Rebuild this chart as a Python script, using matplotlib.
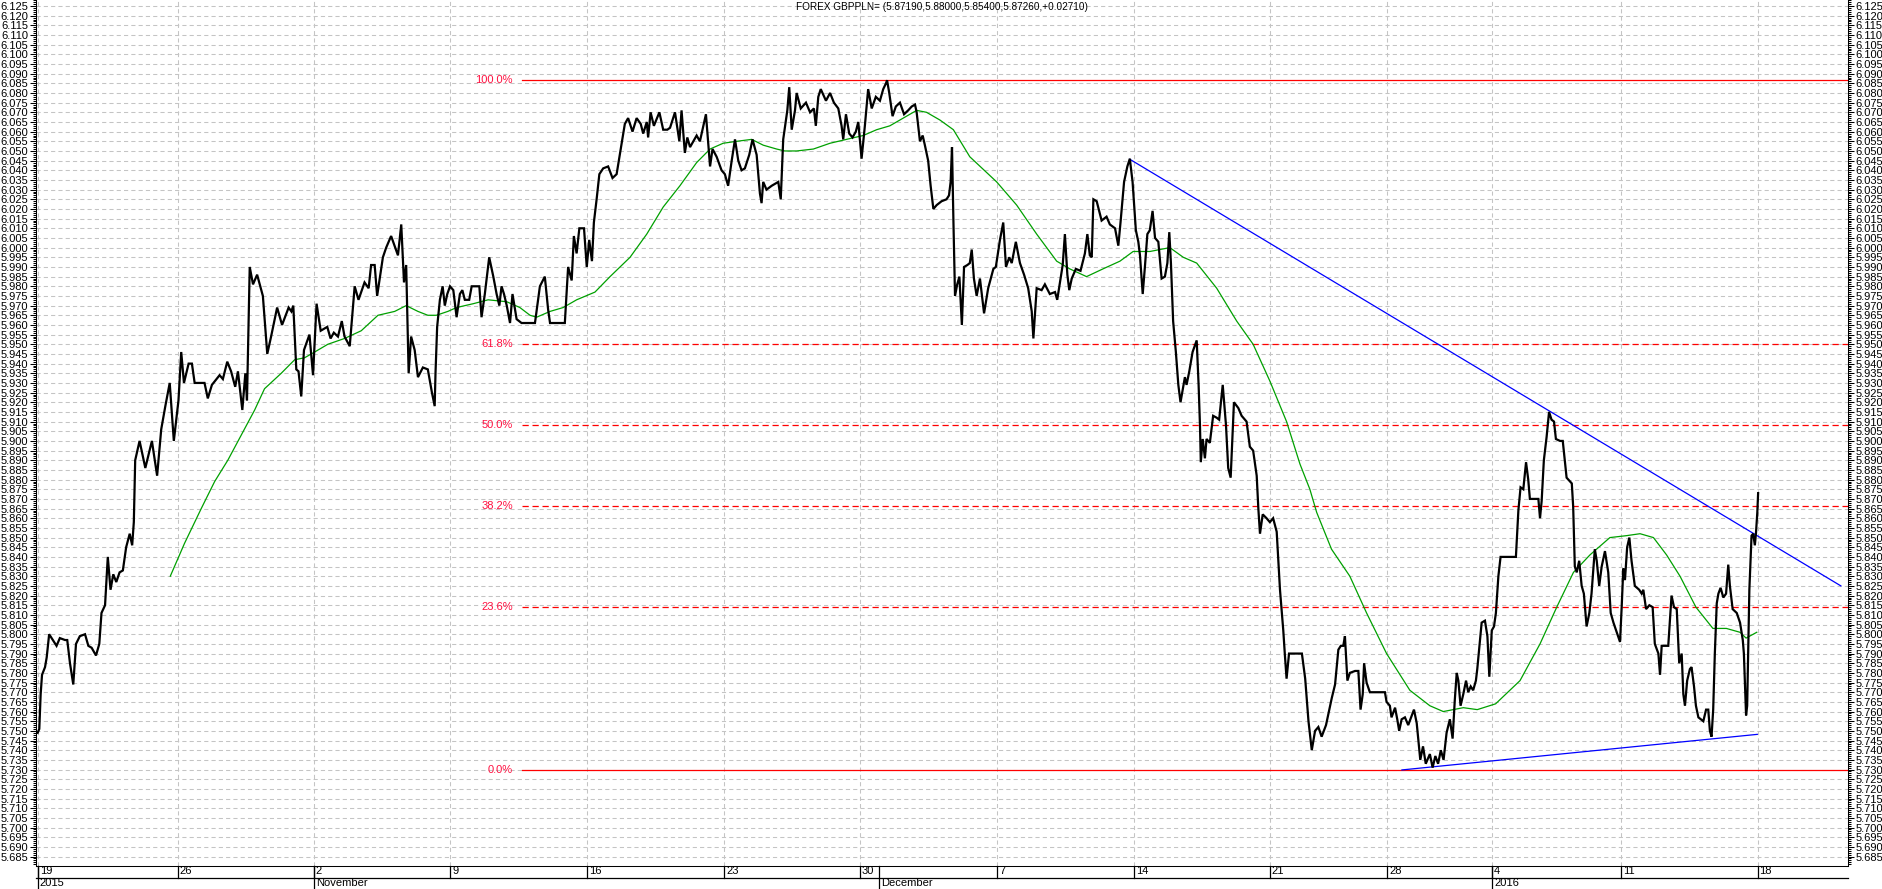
import matplotlib
matplotlib.use('Agg')
import matplotlib.pyplot as plt
from matplotlib.ticker import MultipleLocator, FormatStrFormatter
from matplotlib import transforms

# --- dados (eixo x = dias de negociacao desde 19 out 2015) ---
t_close = [
    -0.01, 0.05, 0.10, 0.15, 0.26, 0.32, 0.41, 0.50, 0.68, 0.80,
    0.99, 1.07, 1.17, 1.29, 1.39, 1.53, 1.72, 1.84, 1.96, 2.12,
    2.24, 2.32, 2.45,
    2.55, 2.65, 2.75, 2.86, 2.98, 3.10, 3.22, 3.35, 3.44, 3.50,
    3.55, 3.71, 3.92, 4.16, 4.35, 4.50, 4.65, 4.81, 4.96, 5.13,
    5.23, 5.33, 5.50, 5.62, 5.72, 6.08, 6.20, 6.35, 6.63, 6.75,
    6.91, 7.05, 7.20, 7.30, 7.46, 7.57, 7.63, 7.73, 7.85, 8.00,
    8.21, 8.37, 8.51, 8.73, 8.91, 9.15, 9.25, 9.32, 9.43, 9.51,
    9.61, 9.71, 9.91, 10.04, 10.17, 10.32, 10.56, 10.68, 10.80, 10.95,
    11.09, 11.19, 11.38, 11.56, 11.70, 11.92, 12.07, 12.16, 12.29, 12.38,
    12.59, 12.71, 12.89, 13.14, 13.26, 13.36, 13.44, 13.53, 13.62, 13.75,
    13.87, 14.05, 14.23, 14.38, 14.48,
    14.51, 14.57, 14.67, 14.77, 14.85, 14.94, 15.04, 15.16, 15.28, 15.40,
    15.49, 15.58, 15.74, 15.83, 16.11, 16.19, 16.31, 16.47, 16.62, 16.74,
    16.84, 16.92, 17.01, 17.11, 17.23, 17.32, 17.47, 17.65, 18.14, 18.32,
    18.50, 18.62, 18.69, 19.23, 19.35, 19.48, 19.56, 19.66, 19.76, 19.93,
    20.03, 20.12, 20.22, 20.29, 20.39, 20.49, 20.63, 20.81, 20.97, 21.12,
    21.27, 21.42, 21.54, 21.70, 21.85, 22.00, 22.09, 22.22, 22.27, 22.36,
    22.48, 22.68, 22.82, 22.97, 23.07, 23.25, 23.41, 23.49, 23.61, 23.70,
    23.80, 24.04, 24.16, 24.38, 24.53, 24.62, 24.77, 24.95, 25.07, 25.19,
    25.32, 25.44, 25.56, 25.68, 25.80, 25.96, 26.08, 26.23, 26.35, 26.41,
    26.47, 26.59, 26.78, 27.02, 27.11, 27.20, 27.35, 27.42, 27.51, 27.63,
    27.69, 27.84, 28.03, 28.18, 28.32, 28.39, 28.48, 28.57, 28.76, 28.91,
    29.05, 29.21, 29.33, 29.39, 29.49, 29.61, 29.73, 29.85, 29.94, 30.06,
    30.18, 30.30, 30.43, 30.58, 30.73, 30.85, 30.95, 30.99, 31.07,
    31.19, 31.31, 31.46, 31.61, 31.76, 31.89, 32.01, 32.07, 32.19, 32.29,
    32.37, 32.49, 32.58, 32.68, 32.80, 32.98, 33.16, 33.25, 33.31, 33.36,
    33.41, 33.47, 33.55, 33.63, 33.72, 33.80, 33.92, 34.01, 34.08, 34.16,
    34.26, 34.38, 34.53, 34.68, 34.87, 34.96, 35.11, 35.23, 35.33, 35.45,
    35.54, 35.69, 35.84, 35.99, 36.14, 36.27, 36.33, 36.45, 36.63, 36.75,
    36.93, 37.12, 37.20, 37.30, 37.40, 37.48, 37.57, 37.64, 37.73, 37.88,
    38.05, 38.21, 38.30, 38.39, 38.46, 38.52, 38.64, 38.82, 39.00, 39.12,
    39.31, 39.43, 39.51, 39.64, 39.76, 39.85, 39.95, 40.07, 40.16, 40.22,
    40.32, 40.40, 40.49, 40.58, 40.68, 40.77, 40.89, 41.01, 41.13, 41.22,
    41.29, 41.35, 41.43, 41.53, 41.62, 41.70, 41.86, 41.92, 42.02, 42.14,
    42.29, 42.36, 42.41, 42.44, 42.51, 42.59, 42.65, 42.77, 42.89, 43.02,
    43.11, 43.24, 43.36, 43.44, 43.53, 43.65, 43.81, 43.93, 44.11, 44.23,
    44.35, 44.48, 44.54, 44.60, 44.70, 44.84, 44.96, 45.08, 45.21, 45.33,
    45.45, 45.51, 45.57, 45.66, 45.94, 46.13, 46.25, 46.37,
    46.49, 46.61, 46.73, 46.85, 47.01, 47.22, 47.34, 47.46, 47.55, 47.64,
    47.70, 47.79, 47.88, 48.07, 48.19, 48.27, 48.35, 48.40, 48.49, 48.61,
    49.16, 49.22, 49.34, 49.40, 49.53, 49.61, 49.68, 49.77, 49.89, 50.01,
    50.14, 50.22, 50.32, 50.38, 50.45, 50.55, 50.65, 50.80, 50.90, 51.00,
    51.10, 51.20, 51.30, 51.41, 51.53, 51.63, 51.71, 51.78, 51.84, 51.92,
    52.02, 52.12, 52.20, 52.29, 52.38, 52.48, 52.53, 52.61, 52.69, 52.81,
    52.90, 52.97, 53.06, 53.14, 53.21, 53.30, 53.38, 53.60, 53.94, 54.03,
    54.11, 54.21, 54.31, 54.39, 54.45, 54.76, 54.82, 54.88, 54.96, 55.06,
    55.15, 55.24, 55.33, 55.40, 55.55, 55.65, 55.79, 55.98, 56.03, 56.09,
    56.16, 56.25, 56.34, 56.42, 56.52, 56.62, 56.70, 56.82, 56.89, 56.98,
    57.07, 57.19, 57.31, 57.40, 57.50, 57.62, 57.74, 57.80, 57.86, 57.92,
    58.00, 58.08, 58.16, 58.28, 58.44, 58.53, 58.59, 58.69, 58.81, 58.93,
    59.01, 59.14, 59.20, 59.26, 59.38, 59.50, 59.62, 59.71, 59.81, 59.90,
    59.99, 60.05, 60.11, 60.19, 60.29, 60.35, 60.44, 60.51, 60.60, 60.78,
    60.88, 60.96, 61.02, 61.08, 61.14, 61.20, 61.27, 61.33, 61.41, 61.51,
    61.61, 61.69, 61.75, 61.85, 62.00, 62.12, 62.22, 62.26, 62.34, 62.38,
    62.46, 62.54, 62.60, 62.66, 62.70, 62.75, 62.78,
]
close = [
    5.749, 5.751, 5.769, 5.779, 5.783, 5.788, 5.800, 5.798, 5.794, 5.798,
    5.797, 5.797, 5.785, 5.774, 5.795, 5.799, 5.800, 5.794, 5.793, 5.789,
    5.795, 5.811, 5.815,
    5.840, 5.823, 5.831, 5.827, 5.832, 5.833, 5.845, 5.852, 5.846, 5.858,
    5.890, 5.900, 5.886, 5.900, 5.882, 5.906, 5.918, 5.930, 5.900, 5.921,
    5.946, 5.930, 5.940, 5.940, 5.930, 5.930, 5.922, 5.929, 5.934, 5.932,
    5.941, 5.936, 5.928, 5.936, 5.916, 5.935, 5.921, 5.990, 5.981, 5.986,
    5.975, 5.945, 5.954, 5.969, 5.960, 5.969, 5.967, 5.970, 5.937, 5.936,
    5.923, 5.947, 5.955, 5.934, 5.971, 5.957, 5.959, 5.953, 5.956, 5.954,
    5.962, 5.954, 5.949, 5.980, 5.973, 5.982, 5.979, 5.991, 5.991, 5.975,
    5.995, 6.000, 6.006, 5.996, 6.012, 5.982, 5.991, 5.935, 5.954, 5.947,
    5.933, 5.938, 5.937, 5.925, 5.918,
    5.935, 5.959, 5.973, 5.980, 5.970, 5.976, 5.980, 5.978, 5.964, 5.976,
    5.978, 5.973, 5.973, 5.980, 5.980, 5.964, 5.976, 5.995, 5.985, 5.976,
    5.970, 5.980, 5.976, 5.970, 5.961, 5.976, 5.963, 5.961, 5.961, 5.980,
    5.985, 5.968, 5.961, 5.961, 5.990, 5.983, 6.006, 5.997, 6.010, 6.010,
    5.990, 6.004, 5.993, 6.013, 6.025, 6.038, 6.041, 6.042, 6.036, 6.038,
    6.051, 6.064, 6.067, 6.060, 6.067, 6.064, 6.059, 6.065, 6.057, 6.070,
    6.063, 6.070, 6.061, 6.061, 6.062, 6.070, 6.055, 6.071, 6.049, 6.057,
    6.052, 6.058, 6.055, 6.069, 6.042, 6.051, 6.047, 6.040, 6.038, 6.032,
    6.045, 6.056, 6.045, 6.040, 6.041, 6.048, 6.056, 6.048, 6.028, 6.023,
    6.034, 6.030, 6.032, 6.034, 6.025, 6.056, 6.071, 6.083, 6.061, 6.071,
    6.080, 6.072, 6.075, 6.070, 6.072, 6.063, 6.078, 6.082, 6.076, 6.080,
    6.075, 6.072, 6.063, 6.056, 6.069, 6.059, 6.057, 6.060, 6.065, 6.046,
    6.063, 6.082, 6.072, 6.078, 6.076, 6.082, 6.085, 6.0866, 6.080,
    6.068, 6.073, 6.075, 6.069, 6.071, 6.073, 6.074, 6.070, 6.055, 6.058,
    6.053, 6.045, 6.032, 6.020, 6.022, 6.024, 6.025, 6.027, 6.034, 6.052,
    6.015, 5.975, 5.981, 5.985, 5.960, 5.990, 5.991, 5.992, 5.999, 5.984,
    5.975, 5.984, 5.966, 5.979, 5.989, 5.990, 6.004, 6.013, 5.990, 5.995,
    5.992, 6.003, 5.992, 5.986, 5.979, 5.967, 5.953, 5.979, 5.978, 5.981,
    5.976, 5.977, 5.973, 5.982, 5.991, 6.007, 5.986, 5.978, 5.984, 5.989,
    5.988, 5.997, 6.007, 5.996, 5.995, 6.025, 6.024, 6.014, 6.016, 6.012,
    6.010, 6.001, 6.013, 6.034, 6.042, 6.046, 6.034, 6.009, 6.003, 5.996,
    5.976, 5.990, 6.007, 6.009, 6.019, 6.005, 6.003, 5.984, 5.985, 5.992,
    6.008, 5.992, 5.962, 5.946, 5.929, 5.920, 5.933, 5.929, 5.936, 5.946,
    5.952, 5.929, 5.908, 5.889, 5.901, 5.891, 5.901, 5.899, 5.913, 5.912,
    5.911, 5.929, 5.908, 5.886, 5.881, 5.920, 5.917, 5.913, 5.910, 5.897,
    5.895, 5.882, 5.865, 5.852, 5.862, 5.860, 5.858, 5.860, 5.853, 5.823,
    5.802, 5.789, 5.777, 5.790, 5.790, 5.790, 5.777, 5.755,
    5.740, 5.750, 5.752, 5.747, 5.753, 5.767, 5.774, 5.792, 5.794, 5.794,
    5.799, 5.776, 5.780, 5.781, 5.781, 5.761, 5.769, 5.785, 5.775, 5.770,
    5.770, 5.765, 5.763, 5.757, 5.762, 5.756, 5.750, 5.756, 5.757, 5.753,
    5.758, 5.761, 5.754, 5.745, 5.735, 5.742, 5.733, 5.738, 5.731, 5.737,
    5.733, 5.740, 5.735, 5.749, 5.756, 5.746, 5.766, 5.780, 5.776, 5.763,
    5.769, 5.776, 5.770, 5.773, 5.771, 5.776, 5.782, 5.794, 5.806, 5.807,
    5.799, 5.778, 5.802, 5.804, 5.811, 5.830, 5.840, 5.840, 5.840, 5.864,
    5.876, 5.875, 5.889, 5.880, 5.870, 5.870, 5.860, 5.869, 5.890, 5.902,
    5.915, 5.911, 5.910, 5.901, 5.900, 5.900, 5.881, 5.878, 5.866, 5.835,
    5.832, 5.838, 5.825, 5.821, 5.804, 5.811, 5.821, 5.844, 5.838, 5.825,
    5.835, 5.843, 5.832, 5.811, 5.806, 5.801, 5.796, 5.814, 5.834, 5.828,
    5.845, 5.850, 5.838, 5.825, 5.823, 5.821, 5.823, 5.813, 5.815, 5.814,
    5.795, 5.790, 5.779, 5.794, 5.794, 5.794, 5.820, 5.814, 5.813, 5.785,
    5.790, 5.769, 5.763, 5.776, 5.782, 5.783, 5.773, 5.763, 5.757, 5.755,
    5.761, 5.761, 5.750, 5.747, 5.761, 5.790, 5.816, 5.821, 5.824, 5.819,
    5.821, 5.836, 5.825, 5.813, 5.811, 5.806, 5.797, 5.790, 5.758, 5.763,
    5.823, 5.851, 5.852, 5.846, 5.852, 5.863, 5.873,
]

# media movel (verde)
t_ma = [
    4.83, 5.35, 5.96, 6.45, 6.93, 7.42, 7.91, 8.27, 8.88, 9.37,
    9.73, 10.10, 10.58, 11.19, 11.80, 12.41, 13.02, 13.44, 13.87, 14.23,
    14.54, 14.96, 15.28, 15.89, 16.43, 17.11, 17.59, 17.96, 18.20, 18.69,
    19.17, 19.66, 20.33, 20.88, 21.61, 22.22, 22.82, 23.43, 24.04, 24.53,
    25.01, 25.50, 26.05, 26.47, 26.96, 27.26, 27.69, 28.30, 28.91, 29.51,
    30.12, 30.61, 31.09, 31.58, 32.07, 32.43, 32.92, 33.41, 34.01, 34.99,
    35.72, 36.45, 37.18, 37.66, 38.27, 38.87, 39.49, 39.97, 40.58, 41.31,
    41.80, 42.29, 43.02, 43.75, 44.35, 44.96, 45.57, 46.06, 46.42, 46.67,
    47.21, 47.88, 48.49, 49.22, 50.07, 50.80, 51.29, 52.02, 52.53, 53.20,
    54.09, 54.82, 55.43, 56.04, 56.64, 57.37, 57.98, 58.47, 58.96, 59.44,
    59.93, 60.51, 61.13, 61.62, 62.12, 62.34, 62.73,
]
ma = [
    5.830, 5.847, 5.865, 5.879, 5.890, 5.903, 5.916, 5.927, 5.935, 5.942,
    5.943, 5.946, 5.950, 5.953, 5.957, 5.965, 5.967, 5.970, 5.967, 5.965,
    5.965, 5.967, 5.969, 5.971, 5.973, 5.972, 5.969, 5.965, 5.964, 5.967,
    5.969, 5.973, 5.977, 5.985, 5.995, 6.007, 6.021, 6.032, 6.044, 6.051,
    6.054, 6.055, 6.056, 6.053, 6.051, 6.050, 6.050, 6.051, 6.054, 6.056,
    6.058, 6.061, 6.063, 6.067, 6.071, 6.070, 6.066, 6.061, 6.047, 6.034,
    6.022, 6.007, 5.993, 5.989, 5.985, 5.989, 5.993, 5.998, 5.998, 6.000,
    5.995, 5.992, 5.979, 5.962, 5.950, 5.931, 5.910, 5.888, 5.875, 5.863,
    5.844, 5.830, 5.811, 5.790, 5.771, 5.763, 5.760, 5.762, 5.761, 5.764,
    5.776, 5.795, 5.814, 5.832, 5.841, 5.850, 5.851, 5.852, 5.850, 5.841,
    5.830, 5.814, 5.803, 5.803, 5.801, 5.798, 5.801,
]

# linhas de tendencia (azul)
upper_t = [39.85, 65.80]
upper_p = [6.0457, 5.8250]
lower_t = [49.78, 62.75]
lower_p = [5.7298, 5.7482]

# fibonacci
fib_hi = 6.0866
fib_lo = 5.7298
fib_ratios = [1.0, 0.618, 0.5, 0.382, 0.236, 0.0]
fib_labels = ['100.0%', '61.8%', '50.0%', '38.2%', '23.6%', '0.0%']
fib_start = 17.66

# eixo de datas
week_pos = [0.0, 5.11, 10.07, 15.04, 20.04, 25.04, 30.0, 35.0, 40.0, 44.96,
            49.25, 53.07, 57.77, 62.76]
week_lbl = ['19', '26', '2', '9', '16', '23', '30', '7', '14', '21',
            '28', '4', '11', '18']
month_pos = [0.0, 10.07, 30.71, 53.07]
month_lbl = ['2015', 'November', 'December', '2016']

title = 'FOREX GBPPLN= (5.87190,5.88000,5.85400,5.87260,+0.02710)'

assert len(t_close) == len(close)
assert len(t_ma) == len(ma)

plt.rcParams['font.family'] = ['Liberation Sans', 'DejaVu Sans']

W, H = 1883.0, 889.0
fig = plt.figure(figsize=(W / 100, H / 100), dpi=100)
ax = fig.add_axes([36 / W, 1 - 866 / H, (1848 - 36) / W, 866 / H])

x0, x1 = -0.07, 66.06
ax.set_xlim(x0, x1)
ax.set_ylim(5.6801, 6.1281)

# grade
ax.set_xticks(week_pos)
ax.yaxis.set_major_locator(MultipleLocator(0.005))
ax.yaxis.set_minor_locator(MultipleLocator(0.001))
ax.yaxis.set_major_formatter(FormatStrFormatter('%.3f'))
ax.grid(True, which='major', color='#c4c4c4', linestyle=(0, (4, 3)), linewidth=0.75)
ax.set_axisbelow(True)
ax.tick_params(axis='x', length=0, labelbottom=False)
ax.tick_params(axis='y', which='both', left=True, right=True, labelleft=True,
               labelright=True, direction='out', labelsize=8, pad=1, width=0.75)
ax.tick_params(axis='y', which='major', length=4.5)
ax.tick_params(axis='y', which='minor', length=2)
ax.spines['top'].set_visible(False)
for s in ['left', 'right', 'bottom']:
    ax.spines[s].set_linewidth(0.75)

# fibonacci
fib_rng = fib_hi - fib_lo
for r, lbl in zip(fib_ratios, fib_labels):
    lvl = fib_lo + r * fib_rng
    ls = '-' if r in (0.0, 1.0) else (0, (5, 3))
    ax.plot([fib_start, x1], [lvl, lvl], color='#ff0000', lw=0.9, ls=ls, zorder=2)
    ax.text(fib_start - 0.33, lvl, lbl, color='#ff1040', fontsize=8,
            ha='right', va='center', zorder=2)

# media movel, tendencias, preco
ax.plot(t_ma, ma, color='#00a000', lw=0.9, zorder=3)
ax.plot(upper_t, upper_p, color='#0000ff', lw=0.9, zorder=3)
ax.plot(lower_t, lower_p, color='#0000ff', lw=0.9, zorder=3)
ax.plot(t_close, close, color='black', lw=1.6, zorder=4, solid_joinstyle='miter')

ax.text(0.5, 1 - 2 / 866, title, transform=ax.transAxes, ha='center', va='top',
        fontsize=7.2, zorder=5)

# eixo de datas em duas linhas
trans = ax.get_xaxis_transform()
row = 11.5 / 866
txt_tr = transforms.offset_copy(trans, fig=fig, x=2, y=-0.5, units='dots')
date_font = ['Liberation Sans Narrow', 'Liberation Sans', 'DejaVu Sans']
ax.plot([x0, x1], [-row, -row], transform=trans, color='black', lw=0.9, clip_on=False)
for p, s in zip(week_pos, week_lbl):
    ax.plot([p, p], [0, -row], transform=trans, color='black', lw=0.9, clip_on=False)
    ax.text(p, 0, s, transform=txt_tr, ha='left', va='top', fontsize=8,
            family=date_font)
for p, s in zip(month_pos, month_lbl):
    ax.plot([p, p], [0, -2 * row - 0.01], transform=trans, color='black', lw=0.9,
            clip_on=False)
    ax.text(p, -row, s, transform=txt_tr, ha='left', va='top', fontsize=8,
            family=date_font)

fig.savefig('out.png', dpi=100)
